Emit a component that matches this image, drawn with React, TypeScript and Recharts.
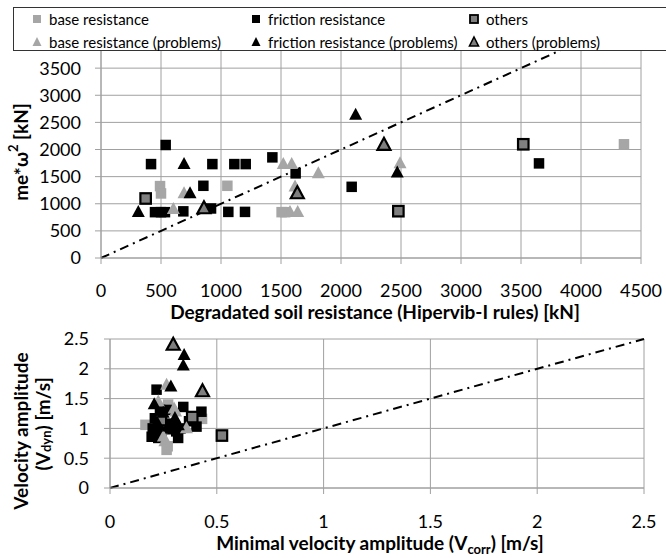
import { ScatterChart, Scatter, XAxis, YAxis, CartesianGrid, ReferenceLine } from "recharts"

// top chart: degraded soil resistance vs me*w^2, [x kN, y kN]
const topBase = [[492, 1325], [500, 1190], [1053, 1331], [1505, 845], [1535, 845], [4358, 2096]]
const topFriction = [
  [539, 2083], [417, 1731], [928, 1731], [1111, 1731], [1206, 1731], [1428, 1855], [1622, 1560],
  [853, 1331], [2089, 1312], [3650, 1744], [450, 845], [500, 845], [533, 845], [686, 860],
  [917, 913], [1061, 850], [1200, 850],
]
const topOthers = [[372, 1097], [2478, 863], [3519, 2096]]
const topBaseProb = [[603, 900], [692, 1190], [1519, 1731], [1589, 1731], [1811, 1560], [1617, 1312], [1575, 845], [1639, 845], [2492, 1744]]
const topFrictionProb = [[311, 845], [692, 1731], [742, 1190], [2122, 2637], [2469, 1571]]
const topOthersProb = [[858, 913], [1636, 1190], [2358, 2083]]

// bottom chart: minimal velocity amplitude vs velocity amplitude, [x m/s, y m/s]
const botBase = [[0.166, 1.06], [0.272, 1.4], [0.27, 0.7], [0.265, 0.64], [0.431, 1.16]]
const botFriction = [
  [0.218, 1.65], [0.343, 1.36], [0.428, 1.28], [0.405, 1.03], [0.195, 0.86], [0.226, 0.84],
  [0.319, 0.84], [0.234, 1.31], [0.265, 1.31], [0.21, 1.17], [0.28, 1.0], [0.31, 0.95],
  [0.2, 1.0], [0.37, 1.12], [0.24, 0.95], [0.29, 1.08], [0.33, 1.0],
]
const botOthers = [[0.385, 1.19], [0.524, 0.88], [0.238, 1.14]]
const botBaseProb = [[0.265, 1.73], [0.226, 1.45], [0.307, 1.28], [0.358, 1.0], [0.257, 0.78], [0.3, 1.33], [0.25, 0.86]]
const botFrictionProb = [
  [0.347, 2.23], [0.343, 2.05], [0.285, 1.7], [0.207, 1.4], [0.249, 1.26], [0.304, 1.17],
  [0.273, 1.03], [0.296, 0.98], [0.22, 1.1], [0.32, 1.05],
]
const botOthersProb = [[0.296, 2.4], [0.433, 1.62]]

const topXTicks = [0, 500, 1000, 1500, 2000, 2500, 3000, 3500, 4000, 4500]
const topYTicks = [0, 500, 1000, 1500, 2000, 2500, 3000, 3500]
const botTicks = [0, 0.5, 1, 1.5, 2, 2.5]

const legendItems = [
  { name: "base resistance", kind: "sq", fill: "#a6a6a6" },
  { name: "friction resistance", kind: "sq", fill: "#000" },
  { name: "others", kind: "sq", fill: "#7f7f7f", stroke: "#000" },
  { name: "base resistance (problems)", kind: "tri", fill: "#a6a6a6" },
  { name: "friction resistance (problems)", kind: "tri", fill: "#000" },
  { name: "others (problems)", kind: "tri", fill: "#7f7f7f", stroke: "#000" },
]

const FONT = "Lato, 'Open Sans', sans-serif"
const GRID = "#a0a0a0"

const pts = (arr: number[][]) => arr.map(([x, y]) => ({ x, y }))

const square = (fill: string, stroke?: string) => (p: any) => {
  const s = 10.5
  return (
    <rect x={p.cx - s / 2} y={p.cy - s / 2} width={s} height={s} fill={fill}
      stroke={stroke || "none"} strokeWidth={stroke ? 2.2 : 0} />
  )
}

const triangle = (fill: string, stroke?: string) => (p: any) => {
  const w = 13, h = 12
  const pts = `${p.cx},${p.cy - h * 0.6} ${p.cx + w / 2},${p.cy + h * 0.4} ${p.cx - w / 2},${p.cy + h * 0.4}`
  return <polygon points={pts} fill={fill} stroke={stroke || "none"} strokeWidth={stroke ? 2.2 : 0} />
}

const tickStyle = { fill: "#000", fontSize: 18, fontFamily: FONT }

function Legend() {
  const cols = [13, 232, 450]
  return (
    <div style={{
      position: "absolute", left: 13, top: 7, width: 700, height: 44, boxSizing: "border-box",
      border: "1px solid #333", background: "#fff", zIndex: 2, fontFamily: FONT, fontSize: 15,
    }}>
      {legendItems.map((it, i) => {
        const left = cols[i % 3]
        const top = i < 3 ? 0 : 23
        return (
          <div key={it.name} style={{ position: "absolute", left, top, height: 21, display: "flex", alignItems: "center" }}>
            <svg width={14} height={14} style={{ marginLeft: 3, marginRight: 5 }}>
              {it.kind === "sq" ? (
                <rect x={3} y={3} width={8} height={8} fill={it.fill} stroke={it.stroke || "none"} strokeWidth={it.stroke ? 1.8 : 0} />
              ) : (
                <polygon points="7,2 11.5,11 2.5,11" fill={it.fill} stroke={it.stroke || "none"} strokeWidth={it.stroke ? 1.6 : 0} />
              )}
            </svg>
            <span style={{ whiteSpace: "nowrap" }}>{it.name}</span>
          </div>
        )
      })}
    </div>
  )
}

export default function App() {
  return (
    <div style={{ position: "absolute", left: 0, top: 0, width: 666, height: 558, background: "#fff", overflow: "hidden" }}>
      <Legend />
      <div style={{ position: "absolute", left: 0, top: 0 }}>
        <ScatterChart width={666} height={325} margin={{ top: 41, right: 25, bottom: 0, left: 0 }}>
          <CartesianGrid stroke={GRID} strokeWidth={1} />
          <XAxis type="number" dataKey="x" domain={[0, 4500]} ticks={topXTicks} height={67}
            tickSize={6} tickMargin={20} tick={tickStyle} stroke={GRID}
            label={(p: any) => (
              <text x={p.viewBox.x + p.viewBox.width / 2 + 4} y={p.viewBox.y + 61} textAnchor="middle"
                fontFamily={FONT} fontSize={19} fontWeight="bold" fill="#000">
                Degradated soil resistance (Hipervib-I rules) [kN]
              </text>
            )} />
          <YAxis type="number" dataKey="y" domain={[0, 4000]} ticks={topYTicks} width={101}
            tickSize={6} tickMargin={14} tick={tickStyle} stroke={GRID}
            label={() => (
              <text x={20} y={152} transform="rotate(-90, 20, 152)" textAnchor="middle" dominantBaseline="central"
                fontFamily={FONT} fontSize={19} fontWeight="bold" fill="#000">
                me*ω<tspan dy={-7} fontSize={13}>2</tspan><tspan dy={7}>  [kN]</tspan>
              </text>
            )} />
          <ReferenceLine segment={[{ x: 0, y: 0 }, { x: 4000, y: 4000 }]} stroke="#000" strokeWidth={2} strokeDasharray="9 5 2 5" />
          <Scatter data={pts(topBase)} shape={square("#a6a6a6")} isAnimationActive={false} />
          <Scatter data={pts(topFriction)} shape={square("#000")} isAnimationActive={false} />
          <Scatter data={pts(topOthers)} shape={square("#7f7f7f", "#000")} isAnimationActive={false} />
          <Scatter data={pts(topBaseProb)} shape={triangle("#a6a6a6")} isAnimationActive={false} />
          <Scatter data={pts(topFrictionProb)} shape={triangle("#000")} isAnimationActive={false} />
          <Scatter data={pts(topOthersProb)} shape={triangle("#7f7f7f", "#000")} isAnimationActive={false} />
        </ScatterChart>
      </div>
      <div style={{ position: "absolute", left: 0, top: 325 }}>
        <ScatterChart width={666} height={233} margin={{ top: 14, right: 22, bottom: 0, left: 0 }}>
          <CartesianGrid stroke={GRID} strokeWidth={1} />
          <XAxis type="number" dataKey="x" domain={[0, 2.5]} ticks={botTicks} height={70}
            tickSize={6} tickMargin={21} tick={tickStyle} stroke={GRID}
            label={(p: any) => (
              <text x={p.viewBox.x + p.viewBox.width / 2 + 3} y={p.viewBox.y + 62} textAnchor="middle"
                fontFamily={FONT} fontSize={19} fontWeight="bold" fill="#000">
                Minimal velocity amplitude (V<tspan dy={4} fontSize={13}>corr</tspan><tspan dy={-4}>) [m/s]</tspan>
              </text>
            )} />
          <YAxis type="number" dataKey="y" domain={[0, 2.5]} ticks={botTicks} width={110}
            tickSize={6} tickMargin={15} tick={tickStyle} stroke={GRID}
            label={() => (
              <g fontFamily={FONT} fontSize={19} fontWeight="bold" fill="#000">
                <text x={20} y={106} transform="rotate(-90, 20, 106)" textAnchor="middle" dominantBaseline="central">
                  Velocity amplitude
                </text>
                <text x={42} y={99} transform="rotate(-90, 42, 99)" textAnchor="middle" dominantBaseline="central">
                  (V<tspan dy={4} fontSize={13}>dyn</tspan><tspan dy={-4}>) [m/s]</tspan>
                </text>
              </g>
            )} />
          <ReferenceLine segment={[{ x: 0, y: 0 }, { x: 2.5, y: 2.5 }]} stroke="#000" strokeWidth={2} strokeDasharray="9 5 2 5" />
          <Scatter data={pts(botBase)} shape={square("#a6a6a6")} isAnimationActive={false} />
          <Scatter data={pts(botFriction)} shape={square("#000")} isAnimationActive={false} />
          <Scatter data={pts(botOthers)} shape={square("#7f7f7f", "#000")} isAnimationActive={false} />
          <Scatter data={pts(botBaseProb)} shape={triangle("#a6a6a6")} isAnimationActive={false} />
          <Scatter data={pts(botFrictionProb)} shape={triangle("#000")} isAnimationActive={false} />
          <Scatter data={pts(botOthersProb)} shape={triangle("#7f7f7f", "#000")} isAnimationActive={false} />
        </ScatterChart>
      </div>
    </div>
  )
}
